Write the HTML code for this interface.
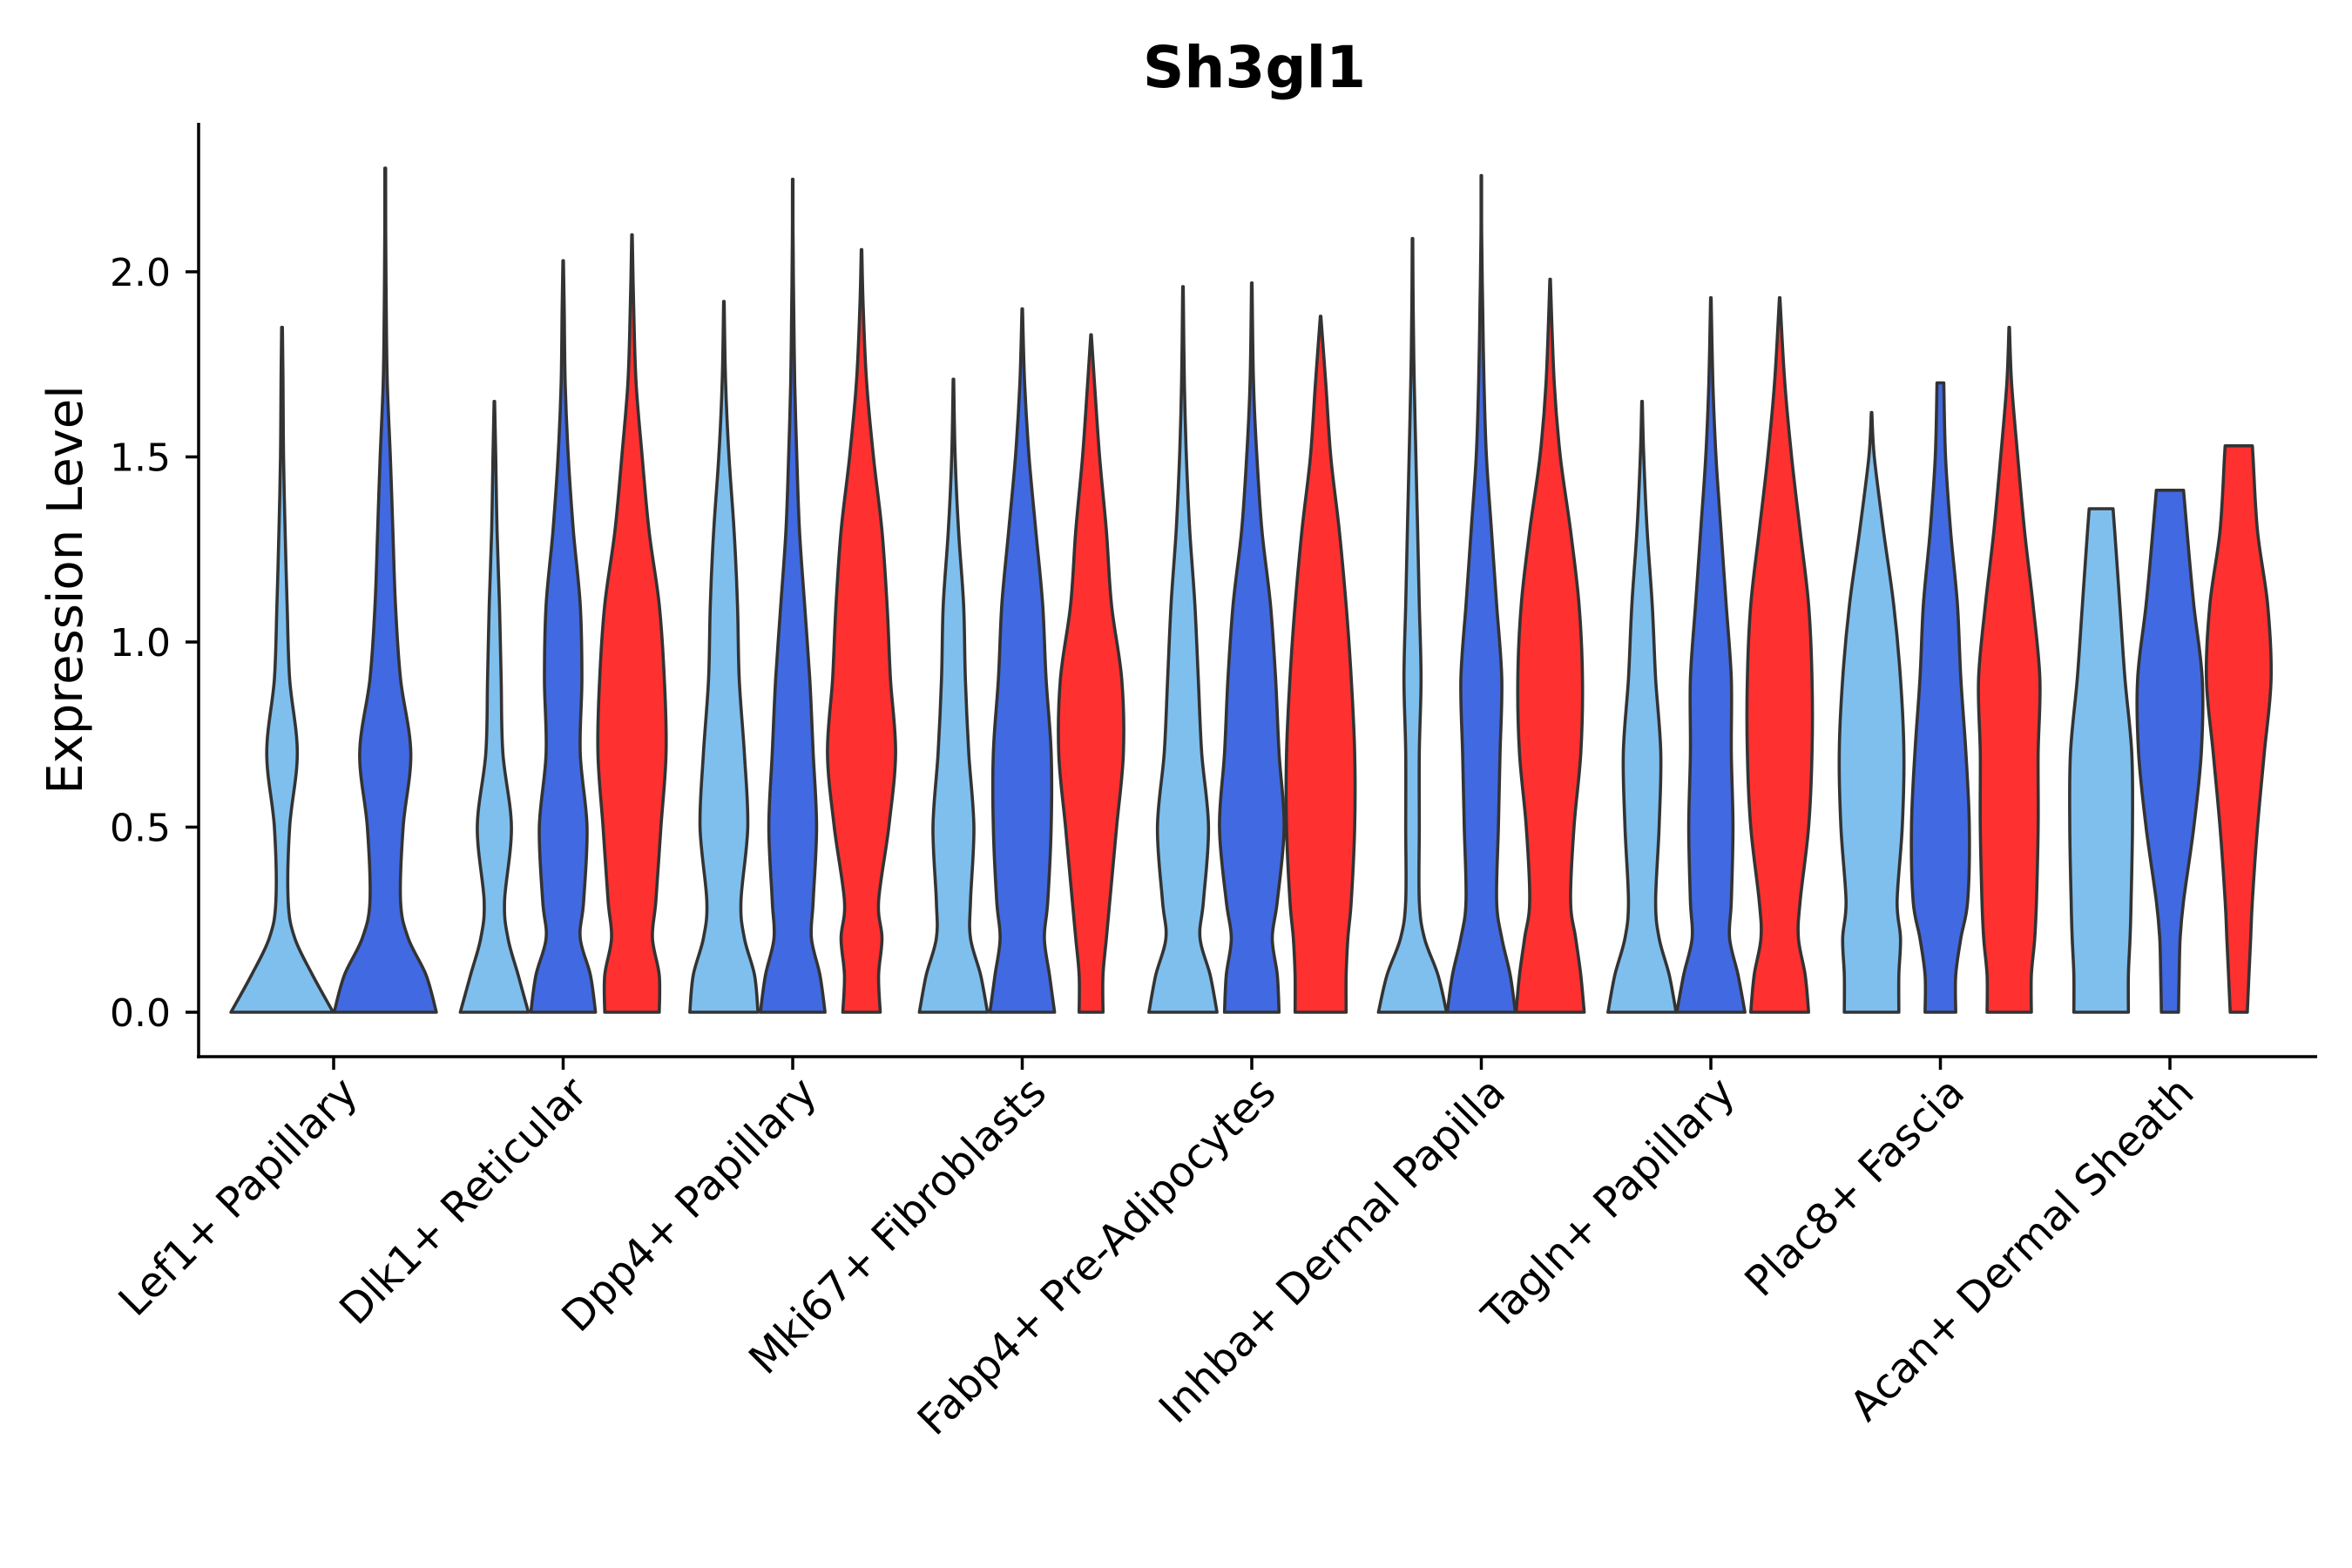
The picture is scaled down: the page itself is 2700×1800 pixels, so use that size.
<!DOCTYPE html>
<html><head><meta charset="utf-8">
<style>
html,body{margin:0;padding:0;background:#fff;}
svg{display:block;font-family:"DejaVu Sans","Liberation Sans",sans-serif;}
</style></head>
<body>
<svg id="chart" width="2700" height="1800" viewBox="0 0 2700 1800" xmlns="http://www.w3.org/2000/svg">
<rect width="2700" height="1800" fill="#fff"/>
<text x="1440" y="100" text-anchor="middle" font-size="66" font-weight="bold" fill="#000">Sh3gl1</text>
<text transform="translate(94,677) rotate(-90)" text-anchor="middle" font-size="56" fill="#000">Expression Level</text>
<g id="violins"></g>
<g id="yaxis"></g>
<g id="xaxis"></g>
</svg>
<script>
const categories = ["Lef1+ Papillary","Dlk1+ Reticular","Dpp4+ Papillary","Mki67+ Fibroblasts","Fabp4+ Pre-Adipocytes","Inhba+ Dermal Papilla","Tagln+ Papillary","Plac8+ Fascia","Acan+ Dermal Sheath"];
const yTicks = [0,0.5,1.0,1.5,2.0];
const yTickLabels = ["0.0","0.5","1.0","1.5","2.0"];
const levels = [0,0.1,0.2,0.3,0.5,0.7,0.9,1.1,1.3,1.5,1.7,1.9,2.1];
const seriesColors = ["#7FBFEE","#4169E1","#FF3030"];
const groupSeries = [[0,1],[0,1,2],[0,1,2],[0,1,2],[0,1,2],[0,1,2],[0,1,2],[0,1,2],[0,1,2]];
const maxValues = [
 [1.85,2.28],[1.65,2.03,2.1],[1.92,2.25,2.06],[1.71,1.9,1.83],[1.96,1.97,1.88],
 [2.09,2.26,1.98],[1.65,1.93,1.93],[1.62,1.7,1.85],[1.36,1.41,1.53]];
const densities = [
 [[1,0.6,0.25,0.12,0.15,0.3,0.15,0.1,0.06,0.03,0.02],
  [1,0.8,0.45,0.3,0.35,0.5,0.3,0.2,0.15,0.1,0.04,0.02,0.01]],
 [[1,0.7,0.4,0.3,0.5,0.25,0.2,0.15,0.08,0.04],
  [0.95,0.8,0.5,0.6,0.7,0.5,0.55,0.5,0.3,0.15,0.06,0.03],
  [0.8,0.8,0.6,0.7,0.85,1.0,0.95,0.8,0.5,0.3,0.12,0.05]],
 [[1,0.9,0.6,0.5,0.7,0.6,0.45,0.4,0.3,0.15,0.05],
  [0.95,0.8,0.55,0.6,0.7,0.6,0.5,0.35,0.2,0.12,0.06,0.03,0.01],
  [0.55,0.5,0.6,0.5,0.8,1.0,0.85,0.75,0.6,0.35,0.15,0.05]],
 [[1,0.8,0.5,0.5,0.6,0.45,0.35,0.3,0.15,0.05],
  [0.95,0.8,0.65,0.75,0.85,0.85,0.7,0.6,0.4,0.2,0.07],
  [0.35,0.35,0.45,0.55,0.75,0.95,0.9,0.6,0.45,0.25,0.1]],
 [[1,0.8,0.5,0.6,0.75,0.55,0.45,0.35,0.2,0.1,0.04],
  [0.8,0.75,0.6,0.75,0.95,0.8,0.7,0.55,0.3,0.15,0.05],
  [0.75,0.75,0.8,0.9,1.0,1.0,0.9,0.75,0.55,0.3,0.15]],
 [[1,0.75,0.35,0.2,0.2,0.2,0.25,0.2,0.15,0.1,0.05,0.02],
  [1,0.85,0.6,0.45,0.5,0.55,0.6,0.45,0.3,0.15,0.08,0.04,0.01],
  [1,0.9,0.75,0.6,0.7,0.9,0.95,0.85,0.6,0.3,0.12]],
 [[1,0.8,0.5,0.4,0.5,0.55,0.4,0.3,0.15,0.05],
  [1,0.8,0.55,0.6,0.65,0.6,0.6,0.45,0.3,0.15,0.06],
  [0.85,0.75,0.55,0.6,0.85,0.95,0.95,0.85,0.6,0.35,0.15]],
 [[0.8,0.8,0.85,0.75,0.9,0.95,0.85,0.65,0.35,0.08],
  [0.45,0.45,0.6,0.8,0.85,0.75,0.6,0.5,0.3,0.15,0.1],
  [0.65,0.65,0.75,0.8,0.85,0.85,0.9,0.7,0.45,0.25,0.07]],
 [[0.8,0.8,0.85,0.88,0.92,0.9,0.7,0.55,0.4],
  [0.25,0.27,0.3,0.4,0.7,0.92,0.95,0.7,0.5],
  [0.25,0.3,0.35,0.4,0.55,0.75,0.95,0.85,0.55,0.42]]];
const topWidths = [[0.008,0.008],[0.008,0.008,0.008],[0.008,0.008,0.008],[0.008,0.008,0.008],[0.008,0.008,0.008],[0.008,0.008,0.008],[0.008,0.008,0.008],[0.008,0.1,0.008],[0.35,0.4,0.4]];

const NS="http://www.w3.org/2000/svg";
const X0=228, X1=2660, Y0=1162, YU=425, AXY=1213, AXTOP=141;
const bandStart=383, bandStep=263.5, dodgeW=237;
function xScale(i){return bandStart+i*bandStep;}
function yScale(v){return Y0-v*YU;}
function mk(tag,attrs,parent){const e=document.createElementNS(NS,tag);for(const k in attrs)e.setAttribute(k,attrs[k]);parent.appendChild(e);return e;}

function smoothPath(pts){
  let d="";
  for(let i=0;i<pts.length-1;i++){
    const p0=pts[Math.max(0,i-1)],p1=pts[i],p2=pts[i+1],p3=pts[Math.min(pts.length-1,i+2)];
    const c1=[p1[0]+(p2[0]-p0[0])/6,p1[1]+(p2[1]-p0[1])/6];
    const c2=[p2[0]-(p3[0]-p1[0])/6,p2[1]-(p3[1]-p1[1])/6];
    d+=` C${c1[0].toFixed(1)},${c1[1].toFixed(1)} ${c2[0].toFixed(1)},${c2[1].toFixed(1)} ${p2[0].toFixed(1)},${p2[1].toFixed(1)}`;
  }
  return d;
}

const vg=document.getElementById('violins');
categories.forEach((cat,ci)=>{
  const ser=groupSeries[ci];
  const n=ser.length;
  const slot=dodgeW/n, half=slot/2*0.99;
  ser.forEach((s,k)=>{
    const cx=xScale(ci)-dodgeW/2+slot*(k+0.5);
    const mx=maxValues[ci][k];
    const dens=densities[ci][k];
    const pts=[];
    for(let j=0;j<dens.length && levels[j]<mx;j++) pts.push([dens[j],levels[j]]);
    pts.push([topWidths[ci][k],mx]);
    const right=pts.map(p=>[cx+p[0]*half,yScale(p[1])]);
    const left=pts.slice().reverse().map(p=>[cx-p[0]*half,yScale(p[1])]);
    let d=`M${right[0][0].toFixed(1)},${right[0][1].toFixed(1)}`+smoothPath(right);
    d+=` L${left[0][0].toFixed(1)},${left[0][1].toFixed(1)}`+smoothPath(left)+" Z";
    const p=mk('path',{d:d,fill:seriesColors[s],stroke:"#333",'stroke-width':3.6,'stroke-linejoin':'round'},vg);
    
    
  });
});

const ya=document.getElementById('yaxis');
const yl=mk('line',{x1:X0,y1:AXTOP,x2:X0,y2:AXY+2,stroke:"#000",'stroke-width':3.5},ya);


yTicks.forEach((v,i)=>{
  const y=yScale(v);
  const t=mk('line',{x1:X0-15,y1:y,x2:X0,y2:y,stroke:"#000",'stroke-width':3.5},ya);
  
  
  const tx=mk('text',{x:X0-32,y:y+16,'text-anchor':'end','font-size':44,fill:'#000'},ya);
  tx.textContent=yTickLabels[i];
  
  
});
const xa=document.getElementById('xaxis');
const xl=mk('line',{x1:X0-2,y1:AXY,x2:X1,y2:AXY,stroke:"#000",'stroke-width':3.5},xa);


categories.forEach((c,i)=>{
  const x=xScale(i);
  const t=mk('line',{x1:x,y1:AXY,x2:x,y2:AXY+15,stroke:"#000",'stroke-width':3.5},xa);
  
  
  const tx=mk('text',{transform:`translate(${x+30},${AXY+44}) rotate(-45)`,'text-anchor':'end','font-size':48,fill:'#000'},xa);
  tx.textContent=c;
  
  
});
</script>
</body></html>
